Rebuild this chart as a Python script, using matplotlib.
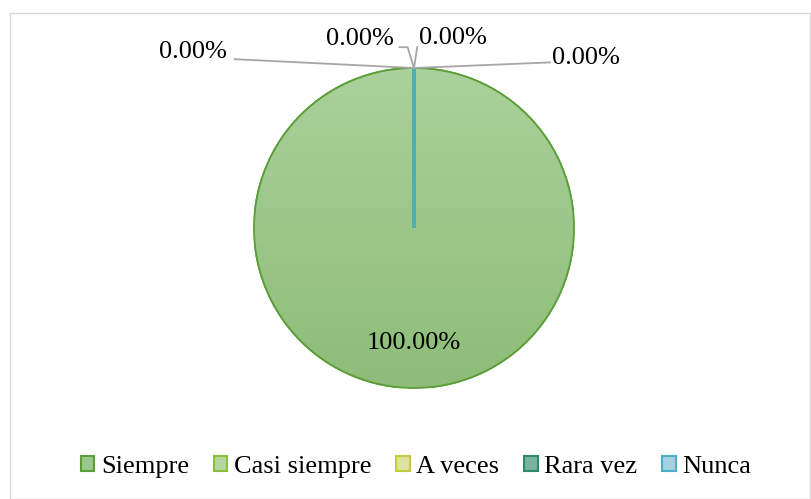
import numpy as np
import matplotlib
matplotlib.use("Agg")
import matplotlib.pyplot as plt
from matplotlib.colors import LinearSegmentedColormap
from matplotlib.patches import Rectangle

plt.rcParams['font.family'] = ['Liberation Serif', 'DejaVu Serif']

categories = ["Siempre", "Casi siempre", "A veces", "Rara vez", "Nunca"]
values = [100.0, 0.0, 0.0, 0.0, 0.0]
fills = ["#9cc78a", "#b5d79f", "#dbe3a0", "#79b3a0", "#a3d2de"]
edges = ["#5b9e37", "#8cbf3f", "#c3cb3c", "#2a8c6c", "#4bb0c6"]

fig = plt.figure(figsize=(8.11, 4.99), dpi=100)
fig.patches.append(Rectangle((10 / 811, 0.5 / 499), 800 / 811, 486 / 499,
                             transform=fig.transFigure, fill=False,
                             edgecolor="#d9d9d9", linewidth=1))

r_px = 160
ax = fig.add_axes([(414 - r_px) / 811, (271 - r_px) / 499, 2 * r_px / 811, 2 * r_px / 499])
wedges, _ = ax.pie(values, colors=fills, startangle=90, counterclock=False,
                   radius=1, wedgeprops=dict(linewidth=1.3))
for w, ec in zip(wedges, edges):
    w.set_edgecolor(ec)

# soft vertical gradient on the main slice
grad = LinearSegmentedColormap.from_list("g", ["#8dbd78", "#aad19b"])
img = ax.imshow(np.linspace(0, 1, 200).reshape(-1, 1), cmap=grad, origin="lower",
                extent=[-1, 1, -1, 1], aspect="auto", zorder=wedges[0].get_zorder() + 0.1)
img.set_clip_path(wedges[0])
for w in wedges[1:]:
    w.set_zorder(wedges[0].get_zorder() + 0.5)
    w.set_linewidth(2.2)
ring = plt.Circle((0, 0), 1, fill=False, edgecolor=edges[0], linewidth=1.3, zorder=5)
ax.add_patch(ring)
ax.set_xlim(-1, 1)
ax.set_ylim(-1, 1)
ax.set_aspect("equal")
ax.axis("off")

def pct(v):
    return f"{v / sum(values) * 100:.2f}%"

fs = 19
ax.text(0, -0.72, pct(values[0]), ha="center", va="center", fontsize=fs)

# small slices: leader lines from top of the pie
top = (0, 1)
lc = "#a6a6a6"
label_pos = [(-1.38, 1.10), (-0.34, 1.18), (0.245, 1.19), (1.075, 1.06)]
leader = [[(-1.12, 1.055)], [(-0.09, 1.13), (-0.04, 1.13)],
          [(0.02, 1.13)], [(0.85, 1.035)]]
for v, (tx, ty), pts in zip(values[1:], label_pos, leader):
    xs = [p[0] for p in pts] + [top[0]]
    ys = [p[1] for p in pts] + [top[1]]
    ax.plot(xs, ys, color=lc, linewidth=1.3, clip_on=False, zorder=6)
    ax.text(tx, ty, pct(v), ha="center", va="center", fontsize=fs, clip_on=False)

handles = [plt.Rectangle((0, 0), 1, 1, facecolor=f, edgecolor=e, linewidth=1.5)
           for f, e in zip(fills, edges)]
fig.legend(handles, categories, loc="center", bbox_to_anchor=(0.513, 1 - 467 / 499),
           ncol=5, frameon=False, fontsize=fs, handlelength=0.5, handleheight=0.5,
           handletextpad=0.25, columnspacing=0.95)

fig.savefig("out.png", dpi=100)
